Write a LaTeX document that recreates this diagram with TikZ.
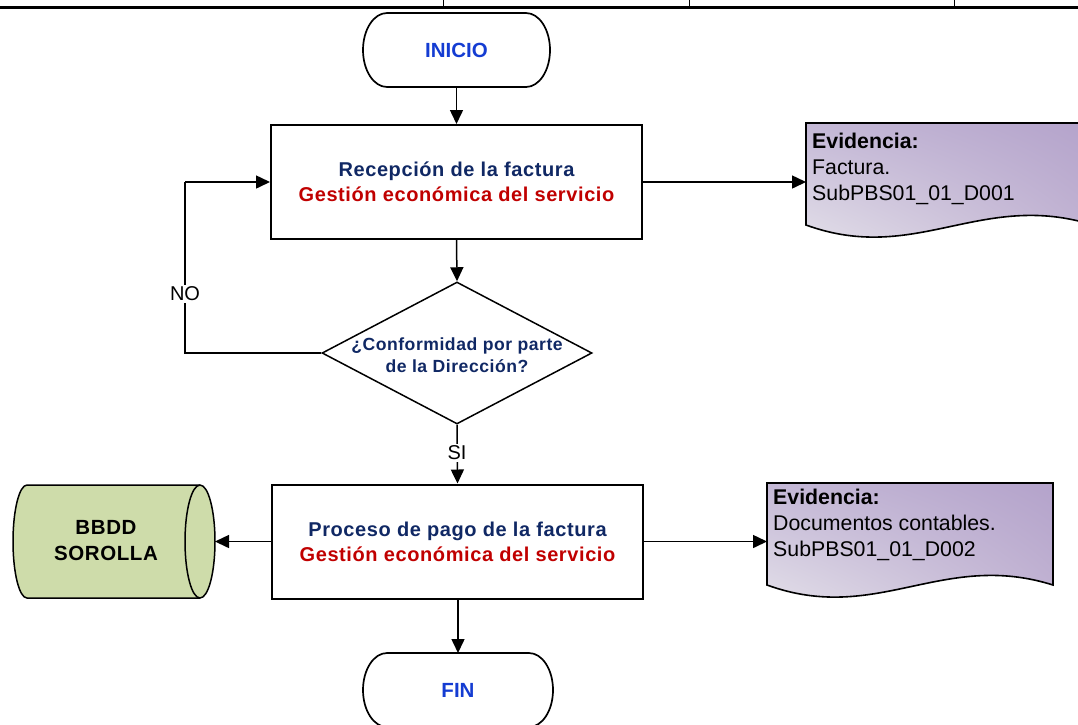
\documentclass[tikz,border=0pt]{standalone}
\usepackage{fontspec}
\setmainfont{Liberation Sans}
\newfontfamily\spacedsans[LetterSpace=3]{Liberation Sans}
\usetikzlibrary{arrows.meta,shapes.geometric,shadings}
\definecolor{navytxt}{RGB}{16,40,100}
\definecolor{redtxt}{RGB}{192,0,0}
\definecolor{termtxt}{RGB}{20,60,210}
\definecolor{dbgreen}{RGB}{206,220,170}
\definecolor{evul}{RGB}{196,184,214}
\definecolor{evur}{RGB}{180,163,203}
\definecolor{evll}{RGB}{232,230,236}
\definecolor{evlr}{RGB}{196,182,212}
\begin{document}
\begin{tikzpicture}[x=1pt,y=-1pt,
  procbox/.style={draw, line width=2pt, minimum width=371pt, minimum height=114pt, align=center, inner sep=0pt,
     font=\spacedsans\fontsize{20}{25}\selectfont\bfseries},
  termbox/.style={minimum width=187pt, minimum height=74pt, inner sep=0pt, font=\fontsize{20.5}{24}\selectfont\bfseries, text=termtxt},
  conn/.style={line width=1.5pt, -{Triangle[length=14pt,width=13pt]}},
  plainln/.style={line width=1.5pt},
  lbl/.style={fill=white, inner sep=2pt, font=\fontsize{20}{24}\selectfont},
  evtext/.style={anchor=north west, align=left, inner sep=0pt, font=\fontsize{21.3}{26}\selectfont},
  evshape/.style={upper left=evul, upper right=evur, lower left=evll, lower right=evlr},
  evline/.style={line width=1.6pt}
]
\useasboundingbox (0,0) rectangle (1078,724);
\clip (0,0) rectangle (1078,724);

% top table border
\draw[line width=3pt] (0,7.5) -- (1078,7.5);
\draw[line width=1pt] (443,0) -- (443,7) (689,0) -- (689,7) (954,0) -- (954,7);

% INICIO terminator
\node[termbox] (ini) at (456.5,50) {INICIO};
\draw[line width=1.7pt] (387,13) -- (526,13) arc[start angle=-90,end angle=90,x radius=24,y radius=37]
   -- (387,87) arc[start angle=90,end angle=270,x radius=24,y radius=37] -- cycle;

% FIN terminator
\node[termbox] (fin) at (458,690) {FIN};
\draw[line width=1.7pt] (387,653) -- (529,653) arc[start angle=-90,end angle=90,x radius=24,y radius=37]
   -- (387,727) arc[start angle=90,end angle=270,x radius=24,y radius=37] -- cycle;

% process boxes
\node[procbox] (r1) at (456.5,182) {\textcolor{navytxt}{Recepción de la factura}\\\textcolor{redtxt}{Gestión económica del servicio}};
\node[procbox] (r2) at (457.5,541.5) {\textcolor{navytxt}{Proceso de pago de la factura}\\\textcolor{redtxt}{Gestión económica del servicio}};

% decision
\node[diamond, draw, line width=1.5pt, minimum width=270pt, minimum height=142pt, inner sep=0pt] (d) at (457,353) {};
\node[align=center, inner sep=0pt, text=navytxt, font=\spacedsans\fontsize{17.6}{22}\selectfont\bfseries] (dt) at (457,355) {¿Conformidad por parte\\de la Dirección?};

% database cylinder
\draw[line width=1.5pt, fill=dbgreen] (200,485) -- (27,485) arc[start angle=-90,end angle=-270,x radius=14,y radius=56.5]
   -- (200,598) arc[start angle=90,end angle=-90,x radius=15,y radius=56.5] -- cycle;
\draw[line width=1.5pt] (200,598) arc[start angle=90,end angle=270,x radius=15,y radius=56.5];
\node[align=center, inner sep=0pt, font=\spacedsans\fontsize{20.5}{26}\selectfont\bfseries] (db) at (106,541) {BBDD\\SOROLLA};
\coordinate (dbr) at (215,541.5);

% evidence documents
\path[evshape, shade] (806,123) -- (1093,123) -- (1093,225) .. controls (981,190) and (916,265) .. (806,225) -- cycle;
\draw[evline] (806,123) -- (1093,123) -- (1093,225) .. controls (981,190) and (916,265) .. (806,225) -- cycle;
\node[evtext] (ev1) at (812,133) {\textbf{Evidencia:}\\Factura.\\SubPBS01\_01\_D001};
\coordinate (ev1l) at (806,182);

\path[evshape, shade] (767,483) -- (1053,483) -- (1053,585) .. controls (942,550) and (877,625) .. (767,585) -- cycle;
\draw[evline] (767,483) -- (1053,483) -- (1053,585) .. controls (942,550) and (877,625) .. (767,585) -- cycle;
\node[evtext] (ev2) at (773,489) {\textbf{Evidencia:}\\Documentos contables.\\SubPBS01\_01\_D002};
\coordinate (ev2l) at (767,541.5);

% connectors
\draw[conn] (456.5,87) -- (r1.north);
\draw[conn] (r1.east) -- (ev1l);
\draw[conn] (r1.south) -- (d.north);
\draw[plainln] (d.west) -| (185,182) coordinate (nocorner);
\draw[conn] (nocorner) -- (r1.west);
\node[lbl] (no) at (185,294) {NO};
\draw[conn] (d.south) -- (r2.north);
\node[lbl] (si) at (457,453) {SI};
\draw[conn] (r2.west) -- (dbr);
\draw[conn] (r2.east) -- (ev2l);
\draw[conn] (fin.north |- r2.south) -- (458,653);
\end{tikzpicture}
\end{document}
